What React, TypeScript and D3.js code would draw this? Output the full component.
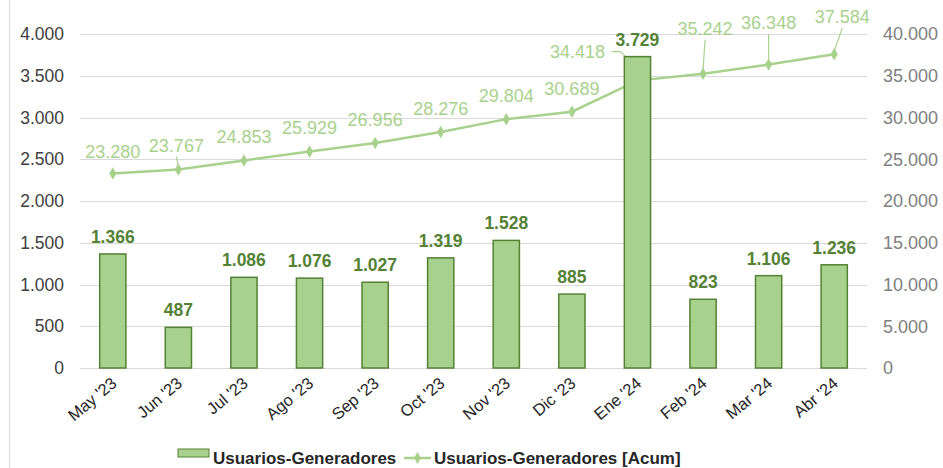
import React, { useEffect, useRef } from 'react';
import * as d3 from 'd3';

const months = ["May '23", "Jun '23", "Jul '23", "Ago '23", "Sep '23", "Oct '23", "Nov '23", "Dic '23", "Ene '24", "Feb '24", "Mar '24", "Abr '24"];
const monthly = [1366, 487, 1086, 1076, 1027, 1319, 1528, 885, 3729, 823, 1106, 1236];
const cumulative = [23280, 23767, 24853, 25929, 26956, 28276, 29804, 30689, 34418, 35242, 36348, 37584];
const leftTicks = [0, 500, 1000, 1500, 2000, 2500, 3000, 3500, 4000];
const rightTicks = [0, 5000, 10000, 15000, 20000, 25000, 30000, 35000, 40000];
const seriesNames = ['Usuarios-Generadores', 'Usuarios-Generadores [Acum]'];

// label placement for the cumulative line: [dx, dy, leader]
const lineLabelPos: [number, number, boolean][] = [
  [0, -16, false], [-2, -18, true], [0, -17, false], [0, -17, false], [0, -17, false], [0, -17, false],
  [0, -17, false], [0, -17, false], [-60, -23, true], [2, -39, true], [0, -35, true], [8, -31, true],
];

const W = 943;
const H = 468;
const BAR = '#A9D18E';
const BAR_EDGE = '#548235';

const fmt = (v: number) => d3.format(',')(v).replace(/,/g, '.');

const App = () => {
  const ref = useRef<SVGSVGElement>(null);

  useEffect(() => {
    document.body.style.margin = '0';
    const svg = d3.select(ref.current);
    svg.selectAll('*').remove();

    const x = d3.scaleBand().domain(months).range([80, 867]).paddingInner(0.6).paddingOuter(0.3);
    const yL = d3.scaleLinear().domain([0, 4000]).range([368, 34]);
    const yR = d3.scaleLinear().domain([0, 40000]).range([368, 34]);
    const cx = (m: string) => (x(m) as number) + x.bandwidth() / 2;
    const font = "'Liberation Sans', Arial, sans-serif";

    svg.append('line').attr('x1', 9.5).attr('x2', 9.5).attr('y1', 0).attr('y2', H)
      .attr('stroke', '#d9d9d9');

    // gridlines
    svg.append('g').selectAll('line').data(leftTicks).enter().append('line')
      .attr('x1', 80).attr('x2', 867)
      .attr('y1', d => Math.round(yL(d)) + 0.5).attr('y2', d => Math.round(yL(d)) + 0.5)
      .attr('stroke', '#d9d9d9').attr('stroke-width', 1);

    svg.append('g').selectAll('text').data(leftTicks).enter().append('text')
      .attr('x', 64).attr('y', d => yL(d)).attr('dy', '0.35em')
      .attr('text-anchor', 'end').attr('font-family', font).attr('font-size', 17.5)
      .attr('fill', '#404040').text(d => fmt(d));

    svg.append('g').selectAll('text').data(rightTicks).enter().append('text')
      .attr('x', 883).attr('y', d => yR(d)).attr('dy', '0.35em')
      .attr('font-family', font).attr('font-size', 18)
      .attr('fill', '#808080').text(d => fmt(d));

    // cumulative line
    const line = d3.line<number>().x((_, i) => cx(months[i])).y(d => yR(d));
    svg.append('path').datum(cumulative).attr('d', line)
      .attr('fill', 'none').attr('stroke', BAR).attr('stroke-width', 2.5);

    svg.append('g').selectAll('path').data(cumulative).enter().append('path')
      .attr('d', d3.symbol(d3.symbolDiamond, 45))
      .attr('transform', (d, i) => `translate(${cx(months[i])},${yR(d)})`)
      .attr('fill', BAR);

    // leader lines
    const lg = svg.append('g').attr('stroke', BAR).attr('stroke-width', 1.2).attr('fill', 'none');
    cumulative.forEach((d, i) => {
      const [dx, dy, leader] = lineLabelPos[i];
      if (!leader) return;
      const px = cx(months[i]);
      const py = yR(d);
      if (i === 8) {
        lg.append('path').attr('d', `M${px + dx + 34},${py + dy - 6}h9l10,10`);
      } else {
        lg.append('path').attr('d', `M${px + dx},${py + dy + 5}L${px},${py - 3}`);
      }
    });

    svg.append('g').selectAll('text').data(cumulative).enter().append('text')
      .attr('x', (d, i) => cx(months[i]) + lineLabelPos[i][0])
      .attr('y', (d, i) => yR(d) + lineLabelPos[i][1])
      .attr('text-anchor', 'middle').attr('font-family', font).attr('font-size', 18)
      .attr('fill', BAR).text(d => fmt(d));

    // bars
    svg.append('g').selectAll('rect').data(monthly).enter().append('rect')
      .attr('x', (d, i) => x(months[i]) as number)
      .attr('y', d => yL(d))
      .attr('width', x.bandwidth())
      .attr('height', d => yL(0) - yL(d))
      .attr('fill', BAR).attr('stroke', BAR_EDGE).attr('stroke-width', 1.5);

    svg.append('g').selectAll('text').data(monthly).enter().append('text')
      .attr('x', (d, i) => cx(months[i]))
      .attr('y', d => yL(d) - 11)
      .attr('text-anchor', 'middle').attr('font-family', font).attr('font-size', 17.5)
      .attr('font-weight', 'bold').attr('fill', BAR_EDGE).text(d => fmt(d));

    // x labels
    svg.append('g').selectAll('text').data(months).enter().append('text')
      .attr('transform', m => `translate(${cx(m) + 5},${385}) rotate(-40)`)
      .attr('text-anchor', 'end').attr('font-family', font).attr('font-size', 16.5)
      .attr('fill', '#262626').text(m => m);

    // legend
    const leg = svg.append('g').attr('font-family', font).attr('font-size', 17)
      .attr('font-weight', 'bold').attr('fill', '#262626');
    leg.append('rect').attr('x', 178).attr('y', 449).attr('width', 31).attr('height', 8)
      .attr('fill', BAR).attr('stroke', BAR_EDGE);
    leg.append('text').attr('x', 213).attr('y', 464).text(seriesNames[0]);
    leg.append('line').attr('x1', 404).attr('x2', 431).attr('y1', 458).attr('y2', 458)
      .attr('stroke', BAR).attr('stroke-width', 2.5);
    leg.append('path').attr('d', d3.symbol(d3.symbolDiamond, 40))
      .attr('transform', 'translate(417.5,458)').attr('fill', BAR);
    leg.append('text').attr('x', 434).attr('y', 464).text(seriesNames[1]);
  }, []);

  return (
    <div style={{ position: 'absolute', left: 0, top: 0 }}>
      <svg ref={ref} width={W} height={H} style={{ display: 'block', background: '#fff' }} />
    </div>
  );
};

export default App;
